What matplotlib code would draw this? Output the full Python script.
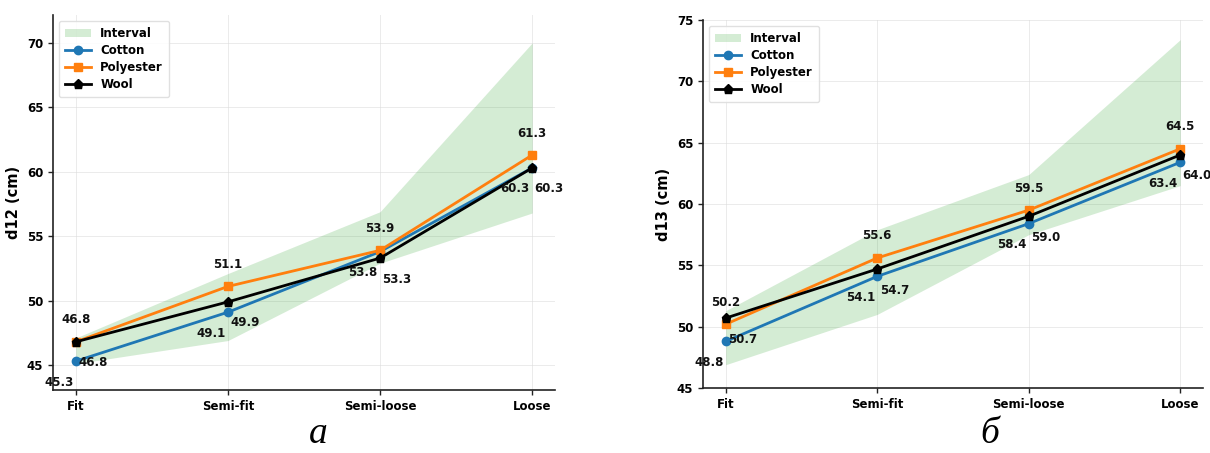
import matplotlib
matplotlib.use("Agg")
import matplotlib.pyplot as plt

# Fit categories on the x axis
categories = ["Fit", "Semi-fit", "Semi-loose", "Loose"]

# Panel a: d12 (cm)
d12_cotton = [45.3, 49.1, 53.8, 60.3]
d12_polyester = [46.8, 51.1, 53.9, 61.3]
d12_wool = [46.8, 49.9, 53.3, 60.3]
d12_lower = [45.1, 46.9, 52.9, 56.8]
d12_upper = [47.1, 52.1, 56.9, 70.0]
d12_ticks = [45, 50, 55, 60, 65, 70]

# Panel б: d13 (cm)
d13_cotton = [48.8, 54.1, 58.4, 63.4]
d13_polyester = [50.2, 55.6, 59.5, 64.5]
d13_wool = [50.7, 54.7, 59.0, 64.0]
d13_lower = [46.9, 51.0, 57.5, 61.5]
d13_upper = [51.3, 57.9, 62.4, 73.4]
d13_ticks = [45, 50, 55, 60, 65, 70, 75]

BLUE = "#1f77b4"
ORANGE = "#ff7f0e"
BLACK = "#000000"

fig = plt.figure(figsize=(12.1, 4.53), dpi=100)
ax_a = fig.add_axes([53 / 1210, 63 / 453, 502 / 1210, 375 / 453])
ax_b = fig.add_axes([703 / 1210, 65 / 453, 500 / 1210, 368 / 453])


def draw_panel(ax, lower, upper, cotton, polyester, wool, ylabel, ylim, yticks):
    x = list(range(len(categories)))
    ax.fill_between(x, lower, upper, color="#2ca02c", alpha=0.2,
                    linewidth=0, label="Interval")
    ax.plot(x, cotton, color=BLUE, marker="o", markersize=6,
            linewidth=2, label="Cotton")
    ax.plot(x, polyester, color=ORANGE, marker="s", markersize=6,
            linewidth=2, label="Polyester")
    ax.plot(x, wool, color=BLACK, marker="p", markersize=6.5,
            linewidth=2, label="Wool")

    text_kw = dict(textcoords="offset pixels", ha="center", va="center",
                   fontsize=8.5, fontweight="bold", color="#111111")
    for xi, v in zip(x, polyester):
        ax.annotate(f"{v:.1f}", (xi, v), xytext=(0, 22), **text_kw)
    for xi, v in zip(x, cotton):
        ax.annotate(f"{v:.1f}", (xi, v), xytext=(-17, -21), **text_kw)
    for xi, v in zip(x, wool):
        ax.annotate(f"{v:.1f}", (xi, v), xytext=(17, -21), **text_kw)

    ax.set_xlim(-0.15, 3.15)
    ax.set_ylim(*ylim)
    ax.set_xticks(x)
    ax.set_xticklabels(categories)
    ax.set_yticks(yticks)
    ax.set_ylabel(ylabel, fontsize=10.5, fontweight="bold")
    for lbl in ax.get_xticklabels() + ax.get_yticklabels():
        lbl.set_fontweight("bold")
        lbl.set_fontsize(8.5)
    ax.grid(True, color="#dddddd", linewidth=0.7, alpha=0.6)
    ax.set_axisbelow(True)
    for side in ("top", "right"):
        ax.spines[side].set_visible(False)
    for side in ("left", "bottom"):
        ax.spines[side].set_linewidth(1.2)
        ax.spines[side].set_color("#222222")
    ax.tick_params(length=3.5, width=1, color="#222222")
    ax.legend(loc="upper left", prop={"weight": "bold", "size": 8.5},
              frameon=True, edgecolor="#dddddd", framealpha=0.9,
              handlelength=2.2, borderpad=0.5, labelspacing=0.35)


draw_panel(ax_a, d12_lower, d12_upper, d12_cotton, d12_polyester, d12_wool,
           "d12 (cm)", (43.06, 72.17), d12_ticks)
draw_panel(ax_b, d13_lower, d13_upper, d13_cotton, d13_polyester, d13_wool,
           "d13 (cm)", (45, 75), d13_ticks)

serif = dict(fontfamily="Liberation Serif", fontstyle="italic", fontsize=27,
             ha="center", va="bottom")
fig.text(318 / 1210, 2 / 453, "а", **serif)
fig.text(990 / 1210, 2 / 453, "б", **serif)

fig.savefig("out.png", dpi=100)
